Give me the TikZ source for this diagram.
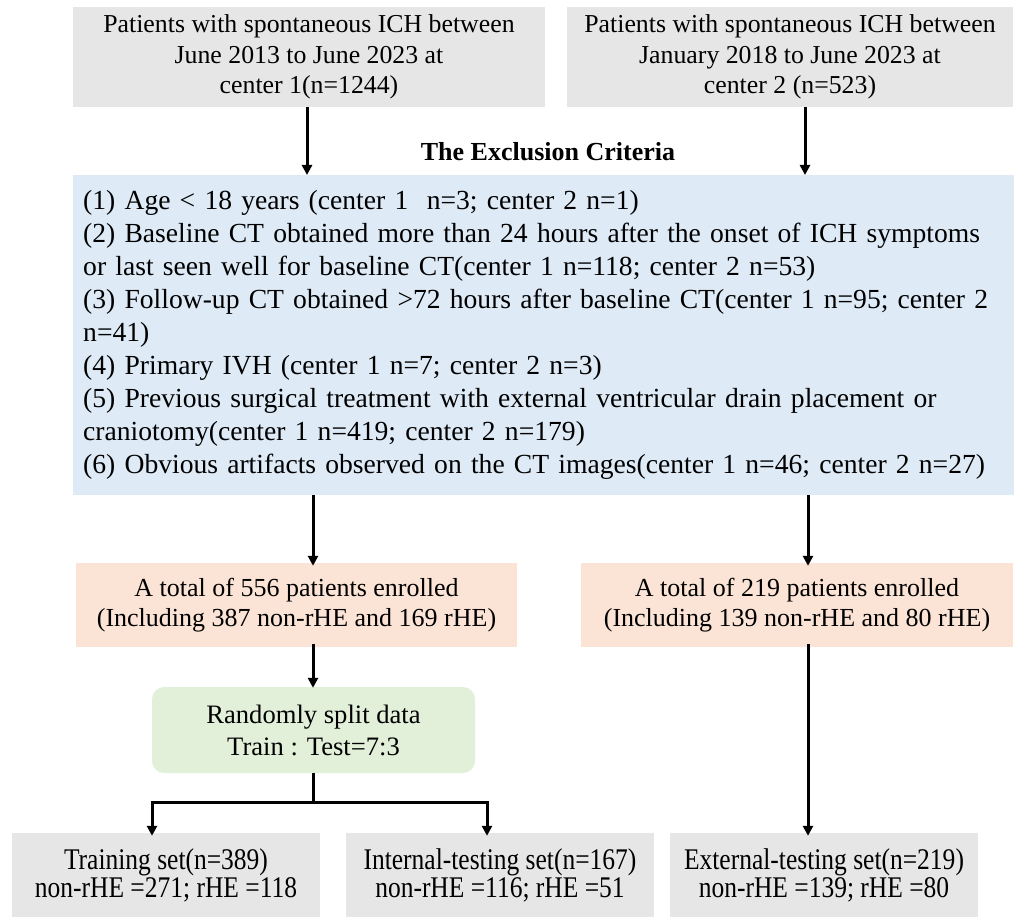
\documentclass[tikz,border=0pt]{standalone}
\usepackage{fontspec}
\setmainfont{Liberation Serif}
\newfontfamily\condfont{Liberation Serif}[FakeStretch=0.85]
\usetikzlibrary{arrows.meta,positioning}
\definecolor{greyfill}{HTML}{E6E6E6}
\definecolor{bluefill}{HTML}{DEEAF6}
\definecolor{orangefill}{HTML}{FBE4D5}
\definecolor{greenfill}{HTML}{E2EFD9}
\tikzset{
  box/.style={inner sep=0pt, align=center, minimum height=84pt},
  topbox/.style={box, fill=greyfill, minimum height=100pt, font=\fontsize{25.8}{30.5}\selectfont},
  orgbox/.style={box, fill=orangefill, font=\fontsize{26}{30}\selectfont},
  botbox/.style={box, fill=greyfill, minimum width=308pt, font=\condfont\fontsize{30}{28}\selectfont},
  arr/.style={line width=3pt, -{Triangle[length=10pt,width=10pt]}},
  ln/.style={line width=3pt}
}
\begin{document}
\begin{tikzpicture}[x=1pt,y=-1pt]
\useasboundingbox (0,0) rectangle (1016,917);
% top boxes
\node[topbox, minimum width=472pt] (top1) at (309,57) {Patients with spontaneous ICH between\\June 2013 to June 2023 at\\center 1(n=1244)};
\node[topbox, minimum width=446pt] (top2) at (790,57) {Patients with spontaneous ICH between\\January 2018 to June 2023 at\\center 2 (n=523)};
\node[font=\fontsize{26}{30}\selectfont\bfseries] (title) at (548,152) {The Exclusion Criteria};
% exclusion box
\node[fill=bluefill, anchor=north west, minimum width=941pt, minimum height=320pt, inner xsep=10pt, inner ysep=0pt, text width=921pt, align=left, font=\fontsize{27.6}{33}\selectfont] (blue) at (73,175) {%
(1) Age < 18 years (center 1\ \ n=3; center 2 n=1)\\
(2) Baseline CT obtained more than 24 hours after the onset of ICH symptoms\\
or last seen well for baseline CT(center 1 n=118; center 2 n=53)\\
(3) Follow-up CT obtained >72 hours after baseline CT(center 1 n=95; center 2\\
n=41)\\
(4) Primary IVH (center 1 n=7; center 2 n=3)\\
(5) Previous surgical treatment with external ventricular drain placement or\\
craniotomy(center 1 n=419; center 2 n=179)\\
(6) Obvious artifacts observed on the CT images(center 1 n=46; center 2 n=27)\par\vspace{13pt}};
% enrolled boxes
\node[orgbox, minimum width=441pt] (org1) at (296.5,605) {A total of 556 patients enrolled\\(Including 387 non-rHE and 169 rHE)};
\node[orgbox, minimum width=432pt] (org2) at (797,605) {A total of 219 patients enrolled\\(Including 139 non-rHE and 80 rHE)};
% split box
\node[box, fill=greenfill, rounded corners=12pt, minimum width=323pt, minimum height=86pt, font=\fontsize{26.6}{32}\selectfont] (green) at (313.5,730) {Randomly split data\\Train : Test=7:3};
% bottom boxes
\node[botbox] (b1) at (166,875) {Training set(n=389)\\non-rHE =271; rHE =118};
\node[botbox] (b2) at (500,875) {Internal-testing set(n=167)\\non-rHE =116; rHE =51};
\node[botbox] (b3) at (824,875) {External-testing set(n=219)\\non-rHE =139; rHE =80};
% connectors
\coordinate (c1) at (307,0);
\coordinate (c2) at (805,0);
\coordinate (c3) at (313,0);
\coordinate (c4) at (808,0);
\coordinate (split) at (313,802);
\coordinate (sl) at (152,802);
\coordinate (sr) at (487,802);
\draw[arr] (top1.south -| c1) -- (blue.north -| c1);
\draw[arr] (top2.south -| c2) -- (blue.north -| c2);
\draw[arr] (blue.south -| c3) -- ([yshift=-3pt]org1.north -| c3);
\draw[arr] (blue.south -| c4) -- ([yshift=-3pt]org2.north -| c4);
\draw[arr] ([yshift=3pt]org1.south -| c3) -- ([yshift=-1pt]green.north -| c3);
\draw[ln] (green.south -| c3) -- (split);
\draw[ln] ([xshift=-1.5pt]sl) -- ([xshift=1.5pt]sr);
\draw[arr] (sl) -- ([yshift=-3pt]b1.north -| sl);
\draw[arr] (sr) -- ([yshift=-3pt]b2.north -| sr);
\draw[arr] ([yshift=3pt]org2.south -| c4) -- ([yshift=-3pt]b3.north -| c4);
\end{tikzpicture}
\end{document}
